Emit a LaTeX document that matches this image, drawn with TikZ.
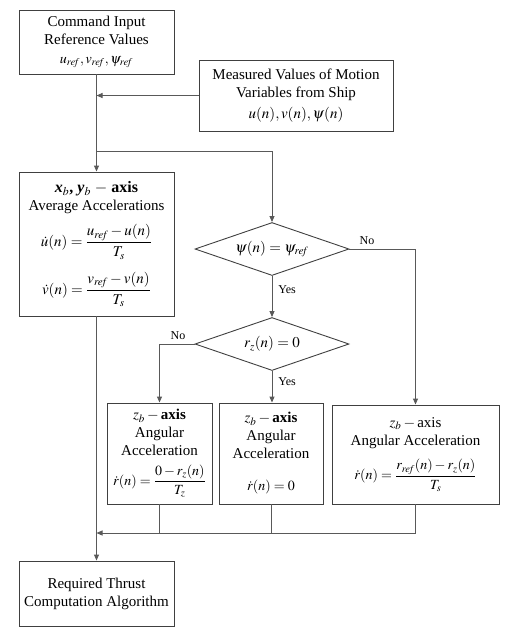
\documentclass[tikz,border=0pt]{standalone}
\usepackage{amsmath}
\usepackage{mathptmx}
\usepackage{fontspec}
\setmainfont{Liberation Serif}
\usetikzlibrary{arrows.meta,shapes.geometric,calc}
\begin{document}
\begin{tikzpicture}[x=1pt,y=-1pt,
  box/.style={draw=black!75, line width=0.9pt, rectangle, align=center, inner sep=0pt, font=\fontsize{15}{18}\selectfont},
  dec/.style={draw=black!75, line width=0.9pt, diamond, aspect=2.9, inner sep=0pt, minimum width=154pt, minimum height=53pt, font=\fontsize{15}{18}\selectfont},
  ln/.style={draw=black!65, line width=0.9pt},
  arr/.style={ln, -{Triangle[length=6pt,width=5pt]}},
  lbl/.style={font=\fontsize{12}{14}\selectfont, inner sep=0pt},
]
\useasboundingbox (0,0) rectangle (514,638);

\node[box, minimum width=155pt, minimum height=64pt] (cmd) at (96.5,42)
  {Command Input\\Reference Values\\[1pt]{\fontsize{14}{14}\selectfont $u_{\mathit{ref}}, v_{\mathit{ref}}, \psi_{\mathit{ref}}$}};
\node[box, minimum width=194pt, minimum height=71pt] (meas) at (296,95.5)
  {Measured Values of Motion\\Variables from Ship\\[3pt]$u(n),v(n),\psi(n)$};
\node[box, minimum width=155pt, minimum height=144pt] (acc) at (96.5,244)
  {{\fontsize{16}{18}\selectfont\textbf{\textit{x}$_b$, \textit{y}$_b$ $-$ axis}}\\Average Accelerations\\[10pt]
   $\dot{u}(n)=\dfrac{u_{\mathit{ref}}-u(n)}{T_s}$\\[12pt]
   $\dot{v}(n)=\dfrac{v_{\mathit{ref}}-v(n)}{T_s}$};
\node[dec] (d1) at (272,249) {$\psi(n)=\psi_{\mathit{ref}}$};
\node[dec] (d2) at (272,344) {$r_z(n)=0$};
\node[box, minimum width=105pt, minimum height=101pt] (b4) at (159.5,453.5)
  {\fontsize{15}{17}\selectfont$z_b - \textbf{axis}$\\Angular\\Acceleration\\[8pt]{\fontsize{14}{16}\selectfont$\dot{r}(n)=\dfrac{0-r_z(n)}{T_z}$}};
\node[box, minimum width=104pt, minimum height=101pt] (b5) at (271,453.5)
  {\fontsize{15}{17}\selectfont$z_b - \textbf{axis}$\\Angular\\Acceleration\\[14pt]{\fontsize{14}{16}\selectfont$\dot{r}(n)=0$}};
\node[box, minimum width=167pt, minimum height=99pt] (b6) at (415.5,454.5)
  {$z_b -{}$axis\\Angular Acceleration\\[10pt]{\fontsize{14}{16}\selectfont$\dot{r}(n)=\dfrac{r_{\mathit{ref}}(n)-r_z(n)}{T_s}$}};
\node[box, minimum width=155pt, minimum height=65pt] (thr) at (96.5,593.5)
  {Required Thrust\\Computation Algorithm};

\coordinate (br) at (96.5,151);
\coordinate (m) at (96.5,533);

\draw[arr] (cmd.south) -- (acc.north);
\draw[arr] (meas.west) -- (meas.west -| cmd.south);
\draw[arr] (br) -| (d1.north);
\draw[arr] (d1.south) -- (d2.north) node[lbl, pos=0.33, right=6pt] {Yes};
\draw[arr] (d1.east) -| (b6.north);
\node[lbl, anchor=south west] at ($(d1.east)+(10,-4)$) {No};
\draw[arr] (d2.west) -| (b4.north);
\node[lbl, anchor=south east] at ($(d2.west)+(-9,-4)$) {No};
\draw[arr] (d2.south) -- (d2.south |- b5.north) node[lbl, pos=0.35, right=6pt] {Yes};
\draw[arr] (acc.south) -- (thr.north);
\draw[ln] (b4.south) -- (b4.south |- m);
\draw[ln] (b5.south) -- (b5.south |- m);
\draw[arr] (b6.south) |- (m);
\end{tikzpicture}
\end{document}
